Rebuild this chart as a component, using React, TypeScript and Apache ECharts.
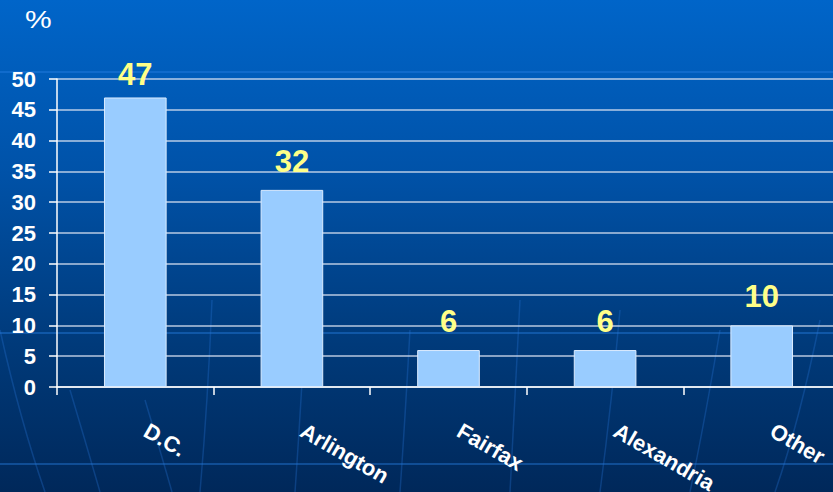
import React, { useEffect, useRef } from "react";
import * as echarts from "echarts";

const categories = ["D.C.", "Arlington", "Fairfax", "Alexandria", "Other"];
const values = [47, 32, 6, 6, 10];
const yTicks = { min: 0, max: 50, interval: 5 };
const unitLabel = "%";

const FONT = "'Liberation Sans', Arial, sans-serif";

export default function App() {
  const ref = useRef<HTMLDivElement>(null);
  useEffect(() => {
    if (!ref.current) return;
    const chart = echarts.init(ref.current, undefined, { renderer: "svg" });
    const deco: any[] = [];
    [72, 333, 464].forEach((y) => {
      deco.push({
        type: "line",
        z: -10,
        shape: { x1: 0, y1: y, x2: 841, y2: y },
        style: { stroke: "rgba(40,130,230,0.4)", lineWidth: 2 },
        silent: true,
      });
    });
    const curves = [
      [0, 330, 20, 420, 45, 492],
      [70, 390, 85, 440, 100, 492],
      [145, 400, 160, 450, 172, 492],
      [212, 300, 208, 400, 200, 492],
      [305, 330, 300, 420, 295, 492],
      [410, 330, 405, 420, 400, 492],
      [520, 300, 515, 400, 510, 492],
      [620, 310, 612, 400, 600, 492],
      [720, 330, 705, 420, 690, 492],
      [820, 320, 800, 420, 775, 492],
    ];
    curves.forEach((c) => {
      deco.push({
        type: "bezierCurve",
        z: -10,
        silent: true,
        shape: { x1: c[0], y1: c[1], cpx1: c[2], cpy1: c[3], x2: c[4], y2: c[5] },
        style: { stroke: "rgba(40,120,220,0.3)", lineWidth: 1.5, fill: "none" },
      });
    });
    deco.push({
      type: "text",
      x: 25,
      y: 8,
      scaleX: 1.25,
      style: {
        text: unitLabel,
        fill: "#ffffff",
        font: `24px ${FONT}`,
      },
    });

    chart.setOption({
      animation: false,
      backgroundColor: {
        type: "linear",
        x: 0,
        y: 0,
        x2: 0,
        y2: 1,
        colorStops: [
          { offset: 0, color: "#0065c9" },
          { offset: 0.35, color: "#0052a8" },
          { offset: 0.7, color: "#003a7a" },
          { offset: 1, color: "#00285a" },
        ],
      },
      graphic: deco,
      grid: { left: 57, top: 79, width: 783, height: 308, outerBoundsMode: "none", containLabel: false },
      xAxis: {
        type: "category",
        data: categories,
        axisLine: { show: true, lineStyle: { color: "#ffffff", width: 1.5 } },
        axisTick: { show: true, length: 8, lineStyle: { color: "#ffffff", width: 1.5 } },
        axisLabel: {
          rotate: -30,
          margin: 36,
          padding: [0, 0, 0, 12],
          color: "#ffffff",
          fontFamily: FONT,
          fontWeight: "bold",
          fontSize: 22,
          interval: 0,
        },
        splitLine: { show: false },
      },
      yAxis: {
        type: "value",
        min: yTicks.min,
        max: yTicks.max,
        interval: yTicks.interval,
        axisLine: { show: true, lineStyle: { color: "#ffffff", width: 1.5 } },
        axisTick: { show: true, length: 8, lineStyle: { color: "#ffffff", width: 1.5 } },
        axisLabel: {
          color: "#ffffff",
          fontFamily: FONT,
          fontWeight: "bold",
          fontSize: 22,
          margin: 21,
        },
        splitLine: { show: true, lineStyle: { color: "rgba(215,225,240,0.85)", width: 1.5 } },
      },
      series: [
        {
          type: "bar",
          data: values.map((v, i) => (i === 0 ? { value: v, label: { distance: 7 } } : v)),
          barWidth: "40%",
          itemStyle: { color: "#99ccff", borderColor: "#dcecff", borderWidth: 1 },
          label: {
            show: true,
            position: "top",
            distance: 13,
            color: "#ffff88",
            fontFamily: FONT,
            fontWeight: "bold",
            fontSize: 31,
          },
        },
      ],
    });
    return () => chart.dispose();
  }, []);
  return (
    <div style={{ position: "absolute", left: 0, top: 0, width: 833, height: 492, overflow: "hidden" }}>
      <div ref={ref} style={{ width: 841, height: 492 }} />
    </div>
  );
}
